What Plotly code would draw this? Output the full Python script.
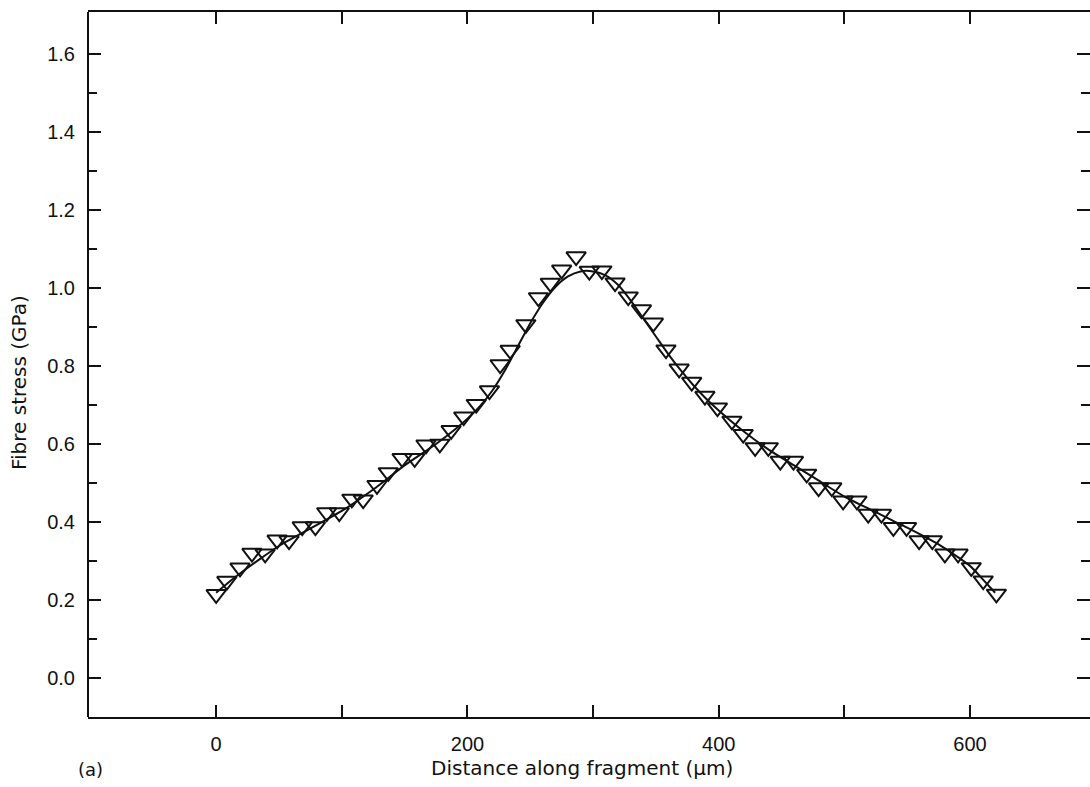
import plotly.graph_objects as go

# Measured fibre stress along the fragment
distance_um = [0, 8.5, 19, 28.5, 39, 48.5, 58, 68.5, 79, 88,
               98, 108, 117, 128, 137, 148, 158, 167, 178, 187,
               197, 207, 217.5, 226, 234, 246.5, 256.5, 266, 275, 286.5,
               297, 307, 317.5, 328, 338.5, 348, 358, 368.5, 378.5, 389,
               399, 410.5, 419.5, 429, 439.5, 449, 459.5, 470, 479.5, 490,
               499, 510, 519, 529.5, 539, 549.5, 559.5, 570, 580, 590.5,
               601, 610.5, 621]
stress_gpa = [0.214, 0.248, 0.282, 0.320, 0.318, 0.354, 0.352, 0.388, 0.388, 0.424,
              0.424, 0.459, 0.457, 0.494, 0.527, 0.563, 0.563, 0.598, 0.600, 0.635,
              0.670, 0.702, 0.737, 0.804, 0.841, 0.907, 0.976, 1.013, 1.047, 1.081,
              1.044, 1.045, 1.014, 0.978, 0.945, 0.911, 0.842, 0.793, 0.759, 0.723,
              0.693, 0.659, 0.625, 0.591, 0.591, 0.556, 0.556, 0.523, 0.488, 0.488,
              0.454, 0.454, 0.420, 0.420, 0.386, 0.386, 0.352, 0.352, 0.318, 0.318,
              0.283, 0.249, 0.215]

# Fitted stress profile
fit_distance_um = [0, 10, 20, 35, 50, 75, 100, 125, 150, 175, 190, 200,
                   210, 220, 230, 240, 250, 260, 270, 280, 290, 300, 310, 320,
                   330, 340, 350, 360, 370, 380, 390, 400, 420, 440, 460, 480,
                   500, 525, 550, 575, 600, 610, 620]
fit_stress_gpa = [0.218, 0.245, 0.270, 0.305, 0.338, 0.383, 0.428, 0.483, 0.545, 0.600,
                  0.637, 0.665, 0.697, 0.738, 0.790, 0.850, 0.910, 0.962, 1.003, 1.030,
                  1.043, 1.043, 1.033, 1.008, 0.968, 0.922, 0.876, 0.830, 0.788, 0.750,
                  0.716, 0.686, 0.632, 0.585, 0.545, 0.505, 0.465, 0.425, 0.385, 0.342,
                  0.287, 0.253, 0.218]

x_tick_vals = [0, 200, 400, 600]
x_tick_text = ["0", "200", "400", "600"]
x_minor_vals = [100, 300, 500]
y_tick_vals = [0.0, 0.2, 0.4, 0.6, 0.8, 1.0, 1.2, 1.4, 1.6]
y_tick_text = ["0.0", "0.2", "0.4", "0.6", "0.8", "1.0", "1.2", "1.4", "1.6"]
y_minor_vals = [0.1, 0.3, 0.5, 0.7, 0.9, 1.1, 1.3, 1.5]

TICK_FONT = "Liberation Sans"
TITLE_FONT = "DejaVu Sans"
INK = "#111111"

fig = go.Figure()

fig.add_trace(go.Scatter(
    x=fit_distance_um, y=fit_stress_gpa, mode="lines",
    line=dict(color=INK, width=2, shape="spline", smoothing=0.6),
    showlegend=False, hoverinfo="skip",
))

fig.add_trace(go.Scatter(
    x=distance_um, y=stress_gpa, mode="markers",
    marker=dict(symbol="triangle-down-open", size=17, color=INK,
                line=dict(color=INK, width=2)),
    showlegend=False,
))

fig.update_layout(
    width=1090, height=787,
    margin=dict(l=88, r=0, t=12, b=70),
    paper_bgcolor="white", plot_bgcolor="white",
    font=dict(family=TICK_FONT, size=20, color=INK),
    xaxis=dict(
        range=[-102, 695.5], showgrid=False, zeroline=False,
        showline=True, linecolor=INK, linewidth=2, mirror="ticks",
        ticks="inside", ticklen=12, tickwidth=1.5, tickcolor=INK,
        tickmode="array", tickvals=x_tick_vals, ticktext=x_tick_text,
        ticklabelstandoff=8,
        minor=dict(tickmode="array", tickvals=x_minor_vals, ticks="inside",
                   ticklen=12, tickwidth=1.5, tickcolor=INK),
        tickfont=dict(family=TICK_FONT, size=20, color=INK),
    ),
    yaxis=dict(
        range=[-0.101, 1.709], showgrid=False, zeroline=False,
        showline=False, mirror="ticks",
        ticks="inside", ticklen=13, tickwidth=2, tickcolor=INK,
        tickmode="array", tickvals=y_tick_vals, ticktext=y_tick_text,
        ticklabelstandoff=12,
        minor=dict(tickmode="array", tickvals=y_minor_vals, ticks="inside",
                   ticklen=9, tickwidth=1.5, tickcolor=INK),
        tickfont=dict(family=TICK_FONT, size=20, color=INK),
    ),
    shapes=[dict(type="line", xref="paper", yref="paper", x0=0, x1=0, y0=0, y1=1,
                 line=dict(color=INK, width=2))],
    annotations=[
        dict(text="Fibre stress (GPa)", xref="paper", yref="paper",
             x=-0.069, y=0.475, textangle=-90, showarrow=False,
             xanchor="center", yanchor="middle",
             font=dict(family=TITLE_FONT, size=20, color=INK)),
        dict(text="Distance along fragment (\u00b5m)", xref="paper", yref="paper",
             x=0.493, y=-0.072, showarrow=False,
             xanchor="center", yanchor="middle",
             font=dict(family=TITLE_FONT, size=20, color=INK)),
        dict(text="(a)", xref="paper", yref="paper",
             x=0.002, y=-0.075, showarrow=False,
             xanchor="center", yanchor="middle",
             font=dict(family=TITLE_FONT, size=18, color=INK)),
    ],
)

fig.write_html("out.html")
